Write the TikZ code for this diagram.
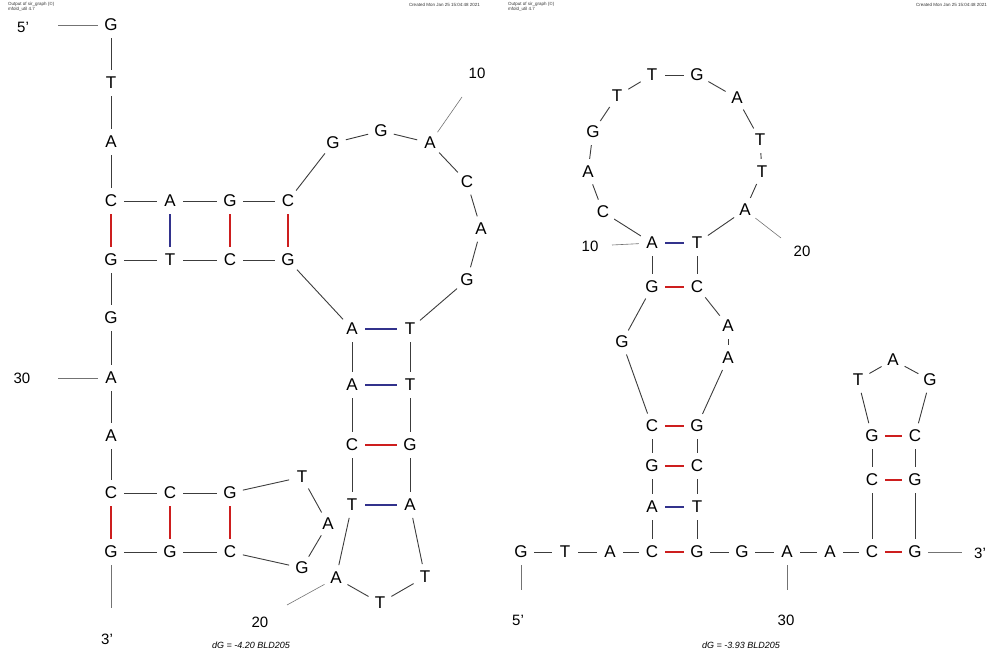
\documentclass[tikz,border=0pt]{standalone}
\usepackage{fontspec}
\setmainfont{Liberation Sans}
\definecolor{gcred}{RGB}{205,30,30}
\definecolor{atblue}{RGB}{50,50,140}
\definecolor{bbgray}{RGB}{60,60,60}
\begin{document}
\begin{tikzpicture}[x=1pt,y=-1pt,
  nt/.style={circle,minimum size=26pt,inner sep=0pt,font=\fontsize{17}{17}\selectfont,text=black},
  bb/.style={draw=bbgray,line width=0.9pt},
  gcpair/.style={draw=gcred,line width=1.1pt},
  atpair/.style={draw=atblue,line width=1.1pt},
  lab/.style={draw=black!55,line width=0.6pt},
  lbl/.style={font=\fontsize{15}{15}\selectfont,inner sep=0pt},
  hdr/.style={font=\fontsize{4.5}{5}\selectfont,inner sep=0pt,align=left,text=black!80},
  dgt/.style={font=\fontsize{9}{9}\selectfont\itshape,inner sep=0pt,anchor=base}]
\useasboundingbox (0,0) rectangle (989,650);
% headers
\node[hdr,anchor=north west] (h1) at (8,2) {Output of sir\_graph (©)\\mfold\_util 4.7};
\node[hdr,anchor=north east] (h2) at (480,3) {Created Mon Jan 25 15:04:48 2021};
\node[hdr,anchor=north west] (h3) at (508,2) {Output of sir\_graph (©)\\mfold\_util 4.7};
\node[hdr,anchor=north east] (h4) at (987,3) {Created Mon Jan 25 15:04:48 2021};
% ---------------- left structure ----------------
\foreach \n/\b/\x/\y in {1/G/111/25,2/T/111/83,3/A/111/142,4/C/111/201,5/A/170/201,6/G/230/201,7/C/288/201,
  8/G/333/143,9/G/381/131,10/A/430/143,11/C/467/182,12/A/481/229,13/G/467/280,
  14/T/410/329,15/T/410/385,16/G/410/445,17/A/410/505,18/T/425/577,19/T/380/603,20/A/336/578,
  21/T/352/505,22/C/352/445,23/A/352/385,24/A/352/329,25/G/288/260,26/C/230/260,27/T/170/260,
  28/G/111/260,29/G/111/318,30/A/111/378,31/A/111/436,32/C/111/493,33/C/170/493,34/G/230/493,
  35/T/302/477,36/A/328/524,37/G/302/568,38/C/230/552,39/G/170/552,40/G/111/552}
  \node[nt] (l\n) at (\x,\y) {\b};
\foreach \a [count=\i from 2] in {1,...,39} \draw[bb] (l\a) -- (l\i);
\foreach \a/\b in {4/28,6/26,7/25,16/22,32/40,33/39,34/38} \draw[gcpair] (l\a) -- (l\b);
\foreach \a/\b in {5/27,14/24,15/23,17/21} \draw[atpair] (l\a) -- (l\b);
% left labels
\coordinate (lc5) at (58,25);
\coordinate (lc30) at (58,378);
\coordinate (lc3) at (111,608);
\coordinate (lc10) at (462,97);
\coordinate (lc20) at (287,605);
\node[lbl] (l5p) at (23,27) {5'};
\node[lbl] (l30t) at (22,378) {30};
\node[lbl] (l3p) at (107,639) {3'};
\node[lbl] (l10t) at (477,73) {10};
\node[lbl] (l20t) at (260,622) {20};
\draw[lab] (lc5) -- (l1);
\draw[lab] (lc30) -- (l30);
\draw[lab] (l40) -- (lc3);
\draw[lab] (l10) -- (lc10);
\draw[lab] (l20) -- (lc20);
\node[dgt] (ldg) at (251,648) {dG = -4.20 BLD205};
% ---------------- right structure ----------------
\foreach \n/\b/\x/\y in {1/G/521/552,2/T/565/552,3/A/610/552,4/C/652/552,5/A/652/507,6/G/652/466,7/C/652/426,
  8/G/622/342,9/G/652/287,10/A/652/243,11/C/603/212,12/A/588/172,13/G/593/132,14/T/617/96,
  15/T/652/75,16/G/697/75,17/A/737/98,18/T/760/140,19/T/762/172,20/A/745/210,
  21/T/697/243,22/C/697/287,23/A/728/326,24/A/728/358,25/G/697/426,26/C/697/466,27/T/697/507,
  28/G/697/552,29/G/742/552,30/A/787/552,31/A/830/552,32/C/872/552,33/C/872/480,34/G/872/436,
  35/T/858/380,36/A/893/360,37/G/930/380,38/C/915/436,39/G/915/480,40/G/915/552}
  \node[nt] (r\n) at (\x,\y) {\b};
\foreach \a [count=\i from 2] in {1,...,39} \draw[bb] (r\a) -- (r\i);
\foreach \a/\b in {4/28,6/26,7/25,9/22,32/40,33/39,34/38} \draw[gcpair] (r\a) -- (r\b);
\foreach \a/\b in {5/27,10/21} \draw[atpair] (r\a) -- (r\b);
% right labels
\coordinate (rc5) at (521,590);
\coordinate (rc30) at (787,590);
\coordinate (rc3) at (962,552);
\coordinate (rc10) at (612,245);
\coordinate (rc20) at (781,238);
\node[lbl] (r5p) at (518,620) {5'};
\node[lbl] (r30t) at (786,620) {30};
\node[lbl] (r3p) at (980,553) {3'};
\node[lbl] (r10t) at (590,246) {10};
\node[lbl] (r20t) at (802,251) {20};
\draw[lab] (r1) -- (rc5);
\draw[lab] (r30) -- (rc30);
\draw[lab] (r40) -- (rc3);
\draw[lab] (rc10) -- (r10);
\draw[lab] (r20) -- (rc20);
\node[dgt] (rdg) at (741,648) {dG = -3.93 BLD205};
\end{tikzpicture}
\end{document}
